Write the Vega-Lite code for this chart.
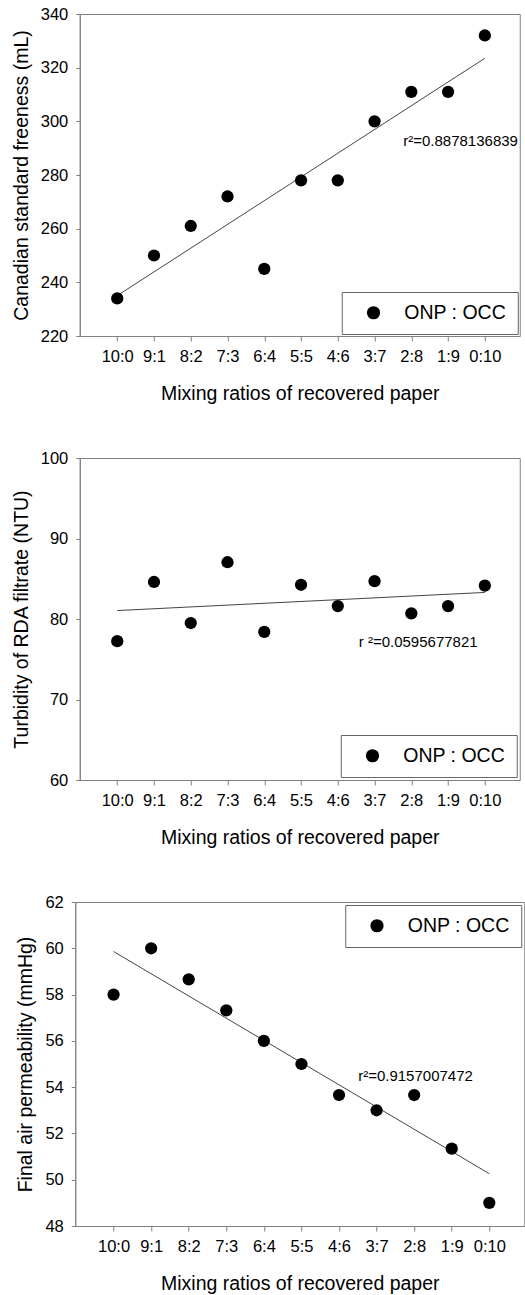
{
  "$schema": "https://vega.github.io/schema/vega-lite/v6.json",
  "background": "white",
  "padding": {"left": 10, "top": 5, "right": 0, "bottom": 0},
  "config": {
    "font": "Liberation Sans",
    "view": {"stroke": "#808080", "strokeWidth": 1},
    "axis": {
      "domainColor": "#808080", "tickColor": "#808080",
      "labelColor": "black", "titleColor": "black",
      "labelFont": "Liberation Sans", "titleFont": "Liberation Sans",
      "labelFontSize": 16.5, "titleFontSize": 19.5, "titleFontWeight": "normal",
      "grid": false
    },
    "axisY": {"tickSize": 4, "labelPadding": 8, "titlePadding": 9},
    "axisX": {"tickSize": 5, "labelPadding": 7, "titlePadding": 20, "labelAngle": 0},
    "legend": {
      "labelFont": "Liberation Sans", "labelFontSize": 19.5, "labelColor": "black",
      "strokeColor": "#666666", "padding": 11, "symbolSize": 175, "symbolType": "circle",
      "symbolOffset": 11, "labelOffset": 21, "symbolStrokeWidth": 0, "symbolOpacity": 1
    }
  },
  "datasets": {
    "csf": [
      {"occ": 0, "value": 234, "series": "ONP : OCC"},
      {"occ": 1, "value": 250, "series": "ONP : OCC"},
      {"occ": 2, "value": 261, "series": "ONP : OCC"},
      {"occ": 3, "value": 272, "series": "ONP : OCC"},
      {"occ": 4, "value": 245, "series": "ONP : OCC"},
      {"occ": 5, "value": 278, "series": "ONP : OCC"},
      {"occ": 6, "value": 278, "series": "ONP : OCC"},
      {"occ": 7, "value": 300, "series": "ONP : OCC"},
      {"occ": 8, "value": 311, "series": "ONP : OCC"},
      {"occ": 9, "value": 311, "series": "ONP : OCC"},
      {"occ": 10, "value": 332, "series": "ONP : OCC"}
    ],
    "csf_fit": [
      {"occ": 0, "fit": 235.05},
      {"occ": 10, "fit": 323.5}
    ],
    "turb": [
      {"occ": 0, "value": 77.25, "series": "ONP : OCC"},
      {"occ": 1, "value": 84.6, "series": "ONP : OCC"},
      {"occ": 2, "value": 79.5, "series": "ONP : OCC"},
      {"occ": 3, "value": 87.05, "series": "ONP : OCC"},
      {"occ": 4, "value": 78.4, "series": "ONP : OCC"},
      {"occ": 5, "value": 84.25, "series": "ONP : OCC"},
      {"occ": 6, "value": 81.6, "series": "ONP : OCC"},
      {"occ": 7, "value": 84.7, "series": "ONP : OCC"},
      {"occ": 8, "value": 80.7, "series": "ONP : OCC"},
      {"occ": 9, "value": 81.6, "series": "ONP : OCC"},
      {"occ": 10, "value": 84.15, "series": "ONP : OCC"}
    ],
    "turb_fit": [
      {"occ": 0, "fit": 81.05},
      {"occ": 10, "fit": 83.3}
    ],
    "air": [
      {"occ": 0, "value": 58.0, "series": "ONP : OCC"},
      {"occ": 1, "value": 60.0, "series": "ONP : OCC"},
      {"occ": 2, "value": 58.66, "series": "ONP : OCC"},
      {"occ": 3, "value": 57.32, "series": "ONP : OCC"},
      {"occ": 4, "value": 56.0, "series": "ONP : OCC"},
      {"occ": 5, "value": 55.0, "series": "ONP : OCC"},
      {"occ": 6, "value": 53.66, "series": "ONP : OCC"},
      {"occ": 7, "value": 53.0, "series": "ONP : OCC"},
      {"occ": 8, "value": 53.66, "series": "ONP : OCC"},
      {"occ": 9, "value": 51.34, "series": "ONP : OCC"},
      {"occ": 10, "value": 49.0, "series": "ONP : OCC"}
    ],
    "air_fit": [
      {"occ": 0, "fit": 59.86},
      {"occ": 10, "fit": 50.26}
    ]
  },
  "spacing": 45,
  "center": true,
  "resolve": {"scale": {"color": "independent"}, "legend": {"color": "independent"}},
  "vconcat": [
    {
      "width": 440, "height": 322,
      "layer": [
        {
          "data": {"name": "csf_fit"},
          "mark": {"type": "line", "color": "#444444", "strokeWidth": 1},
          "encoding": {
            "x": {"field": "occ", "type": "quantitative"},
            "y": {"field": "fit", "type": "quantitative"}
          }
        },
        {
          "data": {"name": "csf"},
          "mark": {"type": "circle", "size": 150, "opacity": 1},
          "encoding": {
            "x": {"field": "occ", "type": "quantitative",
              "scale": {"domain": [-1.02, 10.95], "nice": false, "zero": false},
              "axis": {"title": "Mixing ratios of recovered paper", "values": [0,1,2,3,4,5,6,7,8,9,10],
                "labelExpr": "(10 - datum.value) + ':' + datum.value"}},
            "y": {"field": "value", "type": "quantitative",
              "scale": {"domain": [220, 340], "nice": false, "zero": false},
              "axis": {"title": "Canadian standard freeness (mL)", "values": [220,240,260,280,300,320,340]}},
            "color": {"field": "series", "type": "nominal", "scale": {"range": ["black"]},
              "legend": {"title": null, "orient": "bottom-right", "offset": 2}}
          }
        },
        {
          "data": {"values": [{}]},
          "mark": {"type": "text", "align": "left", "baseline": "middle", "fontSize": 15, "font": "Liberation Sans", "color": "black"},
          "encoding": {
            "x": {"datum": 7.78, "type": "quantitative"},
            "y": {"datum": 292.5, "type": "quantitative"},
            "text": {"value": "r²=0.8878136839"}
          }
        }
      ]
    },
    {
      "width": 440, "height": 322,
      "layer": [
        {
          "data": {"name": "turb_fit"},
          "mark": {"type": "line", "color": "#444444", "strokeWidth": 1},
          "encoding": {
            "x": {"field": "occ", "type": "quantitative"},
            "y": {"field": "fit", "type": "quantitative"}
          }
        },
        {
          "data": {"name": "turb"},
          "mark": {"type": "circle", "size": 150, "opacity": 1},
          "encoding": {
            "x": {"field": "occ", "type": "quantitative",
              "scale": {"domain": [-1.02, 10.95], "nice": false, "zero": false},
              "axis": {"title": "Mixing ratios of recovered paper", "values": [0,1,2,3,4,5,6,7,8,9,10],
                "labelExpr": "(10 - datum.value) + ':' + datum.value"}},
            "y": {"field": "value", "type": "quantitative",
              "scale": {"domain": [60, 100], "nice": false, "zero": false},
              "axis": {"title": "Turbidity of RDA filtrate (NTU)", "values": [60,70,80,90,100]}},
            "color": {"field": "series", "type": "nominal", "scale": {"range": ["black"]},
              "legend": {"title": null, "orient": "bottom-right", "offset": 3}}
          }
        },
        {
          "data": {"values": [{}]},
          "mark": {"type": "text", "align": "left", "baseline": "middle", "fontSize": 15, "font": "Liberation Sans", "color": "black"},
          "encoding": {
            "x": {"datum": 6.57, "type": "quantitative"},
            "y": {"datum": 77.1, "type": "quantitative"},
            "text": {"value": "r ²=0.0595677821"}
          }
        }
      ]
    },
    {
      "width": 449, "height": 324,
      "layer": [
        {
          "data": {"name": "air_fit"},
          "mark": {"type": "line", "color": "#444444", "strokeWidth": 1},
          "encoding": {
            "x": {"field": "occ", "type": "quantitative"},
            "y": {"field": "fit", "type": "quantitative"}
          }
        },
        {
          "data": {"name": "air"},
          "mark": {"type": "circle", "size": 150, "opacity": 1},
          "encoding": {
            "x": {"field": "occ", "type": "quantitative",
              "scale": {"domain": [-1.02, 10.93], "nice": false, "zero": false},
              "axis": {"title": "Mixing ratios of recovered paper", "values": [0,1,2,3,4,5,6,7,8,9,10],
                "labelExpr": "(10 - datum.value) + ':' + datum.value"}},
            "y": {"field": "value", "type": "quantitative",
              "scale": {"domain": [48, 62], "nice": false, "zero": false},
              "axis": {"title": "Final air permeability (mmHg)", "values": [48,50,52,54,56,58,60,62]}},
            "color": {"field": "series", "type": "nominal", "scale": {"range": ["black"]},
              "legend": {"title": null, "orient": "top-right", "offset": 3}}
          }
        },
        {
          "data": {"values": [{}]},
          "mark": {"type": "text", "align": "left", "baseline": "middle", "fontSize": 15, "font": "Liberation Sans", "color": "black"},
          "encoding": {
            "x": {"datum": 6.51, "type": "quantitative"},
            "y": {"datum": 54.48, "type": "quantitative"},
            "text": {"value": "r²=0.9157007472"}
          }
        }
      ]
    }
  ]
}
